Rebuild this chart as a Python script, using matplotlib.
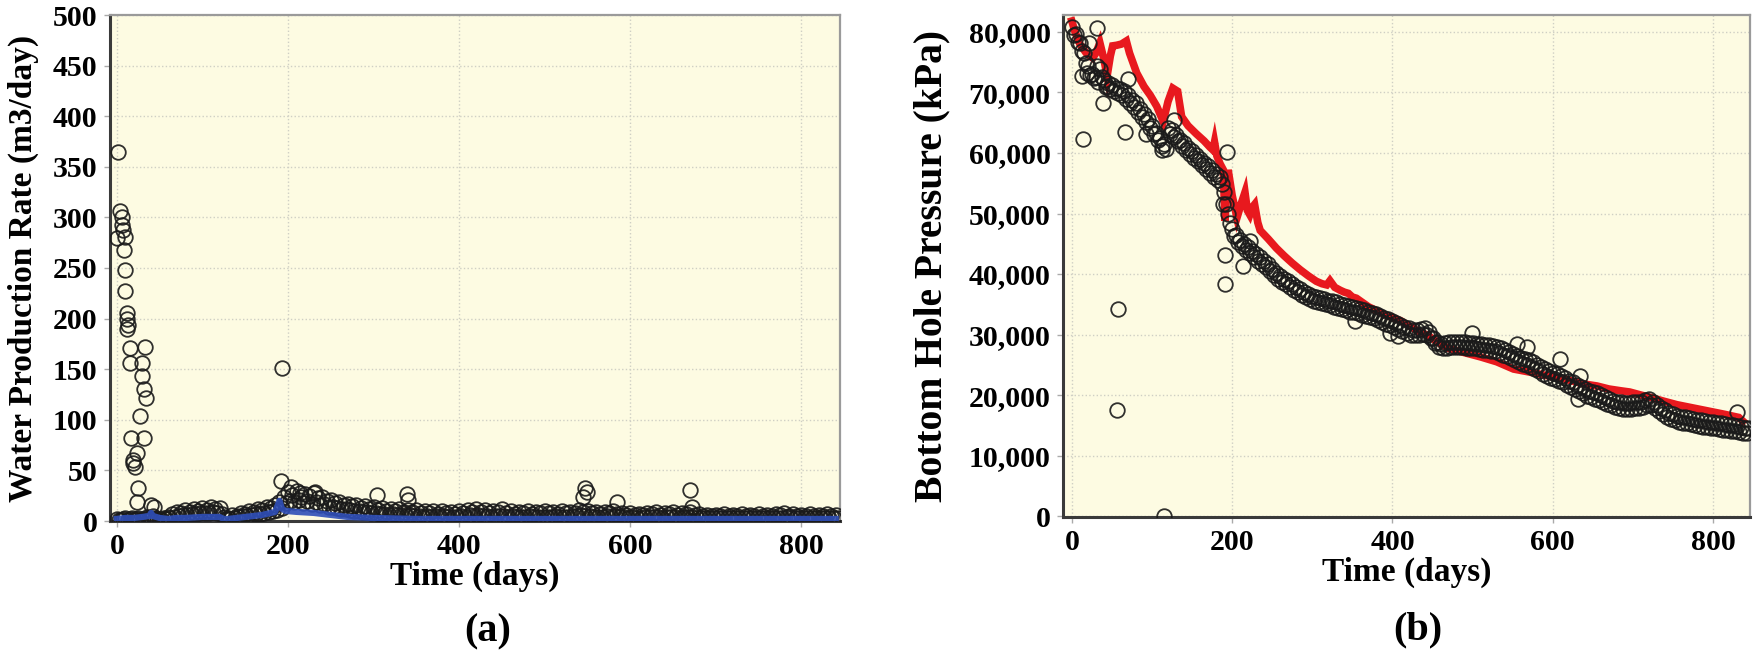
import numpy as np
import matplotlib
matplotlib.use("Agg")
import matplotlib.pyplot as plt
from matplotlib.ticker import FuncFormatter, MultipleLocator

# ---------------- Data: panel (a) water production rate ----------------
water_days = np.arange(0, 845, 5)
water_obs = [
    2, 1, 3, 2, 1, 3, 2, 4, 3, 3,
    2, 3, 4, 7, 9, 8, 11, 9, 12, 10,
    13, 11, 14, 12, 13, 4, 3, 6, 5, 8,
    7, 10, 9, 12, 11, 14, 13, 16, 19, 24,
    29, 26, 30, 24, 27, 25, 28, 23, 24, 20,
    21, 18, 19, 16, 17, 15, 16, 13, 15, 12,
    14, 11, 13, 10, 12, 10, 12, 9, 11, 9,
    11, 8, 10, 8, 10, 7, 10, 8, 9, 7,
    10, 8, 11, 9, 12, 9, 11, 8, 10, 9,
    12, 8, 10, 7, 9, 8, 10, 7, 9, 8,
    10, 8, 9, 7, 10, 8, 9, 8, 11, 9,
    10, 8, 9, 7, 9, 8, 10, 7, 8, 6,
    8, 6, 7, 6, 8, 7, 9, 6, 8, 7,
    9, 6, 8, 7, 9, 6, 7, 5, 6, 5,
    6, 5, 7, 5, 6, 5, 7, 5, 6, 5,
    7, 5, 6, 5, 7, 6, 8, 5, 7, 5,
    6, 5, 7, 5, 6, 5, 7, 5, 6,
]
water_days2 = np.arange(2.5, 845, 5)
water_obs2 = [
    1, 2, 1, 3, 2, 1, 2, 3, 5, 2,
    1, 2, 3, 4, 5, 6, 6, 7, 7, 8,
    8, 8, 9, 8, 7, 2, 2, 3, 4, 5,
    5, 6, 7, 7, 8, 9, 10, 11, 13, 18,
    20, 19, 21, 18, 20, 17, 19, 16, 17, 14,
    14, 13, 12, 12, 11, 10, 10, 9, 9, 8,
    8, 7, 7, 6, 7, 6, 6, 5, 6, 5,
    5, 4, 5, 4, 5, 4, 5, 4, 4, 4,
    5, 4, 6, 5, 6, 5, 5, 4, 5, 5,
    5, 4, 5, 4, 4, 4, 5, 4, 4, 4,
    4, 4, 5, 4, 4, 4, 5, 5, 6, 5,
    5, 4, 4, 4, 5, 4, 5, 4, 4, 3,
    4, 3, 3, 4, 4, 4, 4, 3, 4, 4,
    4, 3, 4, 4, 4, 3, 3, 3, 3, 3,
    3, 3, 3, 3, 3, 3, 3, 3, 3, 3,
    3, 3, 3, 3, 3, 3, 4, 3, 3, 3,
    3, 3, 3, 3, 3, 3, 3, 3, 3,
]
water_out_days = [1, 3.5, 5.5, 7, 0, 10, 8.5, 10, 10, 11.5, 13, 11.5, 15, 15, 33, 29, 29, 32,
                  34, 27, 32, 16, 23, 18.5, 19, 21, 25, 23, 43, 40, 193, 192, 204, 214, 232,
                  304, 339, 340, 547, 549, 545, 670, 585, 672, 6, 12]
water_out_vals = [365, 306, 300, 288, 280, 281, 268, 248, 227, 206, 194, 190, 171, 156, 172, 156, 143, 130,
                  122, 104, 82, 82, 67, 60, 57, 53, 33, 19, 14, 16, 151, 40, 34, 28, 29,
                  26, 27, 21, 33, 29, 24, 31, 19, 14, 292, 200]
water_sim_days = [0, 10, 20, 30, 38, 40, 42, 50, 60, 70, 80, 100, 120, 125, 130, 150, 170, 185,
                  190, 193, 197, 210, 230, 250, 270, 300, 350, 400, 500, 600, 700, 800, 840]
water_sim_vals = [2, 3, 3, 4, 5, 8, 5, 3, 2, 3, 3, 4, 4, 2, 2, 4, 6, 9,
                  20, 12, 10, 9, 8, 6, 4, 3, 2, 2, 2, 2, 2, 2, 2]

# ---------------- Data: panel (b) bottom hole pressure ----------------
bhp_days = np.arange(0, 845, 5)
bhp_obs = [
    80800, 79600, 78200, 76500, 74300, 73000, 72600, 73800, 72000, 71500,
    71200, 70800, 70600, 70300, 69600, 68800, 68200, 67300, 66500, 65600,
    64500, 63300, 62400, 61500, 64200, 63800, 63000, 62200, 61600, 60900,
    60300, 59700, 59000, 58400, 57800, 57200, 56600, 56000, 53500, 50000,
    47500, 46500, 45600, 45000, 44400, 43800, 43300, 42800, 42200, 41600,
    40900, 40200, 39600, 39200, 38800, 38300, 37900, 37500, 37100, 36700,
    36300, 36200, 36000, 35800, 35600, 35500, 35300, 35100, 34900, 34700,
    34600, 34400, 34200, 34000, 33800, 33600, 33400, 33100, 32800, 32500,
    32200, 31900, 31600, 31300, 31000, 30800, 30700, 30900, 31000, 30500,
    29500, 28700, 28500, 28600, 28700, 28800, 28800, 28800, 28700, 28600,
    28600, 28500, 28400, 28300, 28200, 28100, 28000, 27700, 27400, 27100,
    26800, 26500, 26200, 26000, 25800, 25400, 25000, 24600, 24300, 24000,
    23700, 23400, 23200, 22800, 22400, 22100, 21700, 21400, 21000, 20700,
    20500, 20300, 20000, 19700, 19400, 19100, 18900, 18800, 18700, 18700,
    18800, 18800, 18900, 19200, 19300, 18900, 18400, 17900, 17500, 17100,
    16800, 16600, 16400, 16300, 16200, 16000, 15900, 15800, 15700, 15600,
    15500, 15400, 15300, 15200, 15100, 15000, 14900, 14800, 14600,
]
bhp_days2 = np.arange(2.5, 845, 5)
bhp_obs2 = [
    79500, 78300, 76800, 74800, 72900, 72400, 71800, 72500, 70900, 70600,
    70300, 69900, 69500, 68900, 68300, 67600, 66800, 66000, 65100, 64200,
    63200, 62100, 61200, 60700, 63100, 62600, 61900, 61200, 60500, 59900,
    59200, 58600, 58000, 57300, 56700, 56100, 55500, 54800, 51500, 48500,
    46300, 45300, 44600, 44000, 43400, 42800, 42200, 41700, 41100, 40500,
    39800, 39200, 38700, 38300, 37800, 37400, 37000, 36600, 36200, 35900,
    35600, 35400, 35200, 35000, 34800, 34600, 34400, 34200, 34000, 33800,
    33700, 33500, 33300, 33100, 32900, 32700, 32400, 32100, 31800, 31500,
    31200, 30900, 30600, 30300, 30000, 29900, 29900, 30100, 30000, 29400,
    28600, 27900, 27700, 27800, 27900, 28000, 28000, 27900, 27800, 27700,
    27700, 27600, 27500, 27400, 27300, 27200, 27000, 26700, 26400, 26100,
    25800, 25500, 25200, 25000, 24700, 24300, 23900, 23500, 23200, 22900,
    22600, 22400, 22100, 21700, 21300, 21000, 20600, 20300, 19900, 19600,
    19400, 19200, 18900, 18600, 18300, 18000, 17800, 17700, 17700, 17700,
    17800, 17800, 18000, 18300, 18300, 17800, 17300, 16800, 16400, 16100,
    15800, 15600, 15400, 15300, 15200, 15000, 14900, 14800, 14700, 14600,
    14500, 14400, 14300, 14200, 14100, 14000, 13900, 13800, 13700,
]
bhp_out_days = [14, 32, 56, 58, 115, 39, 66, 93, 112, 128, 193, 191, 191, 214, 222, 188,
                13, 19, 22, 31, 44, 70, 353, 397, 407, 499, 555, 568, 609, 632, 634, 830, 843]
bhp_out_vals = [62300, 80600, 17500, 34300, 0, 68200, 63500, 63200, 60500, 65500, 60200, 43200,
                38300, 41300, 45500, 51500, 72700, 73200, 78200, 74300, 71000, 72200, 32200,
                30200, 29700, 30200, 28500, 28000, 26000, 19300, 23200, 17200, 14500]
bhp_sim_days = [0, 4, 10, 18, 26, 30, 35, 40, 44, 48, 51, 56, 62, 68, 72, 81, 90, 98, 106, 114,
                120, 126, 132, 137, 145, 155, 165, 172, 176, 178, 181, 185, 189, 191, 195, 200,
                206, 211, 216, 219, 222, 225, 228, 232, 235, 245, 255, 265, 275, 285, 295, 305,
                312, 318, 322, 328, 335, 340, 345, 350, 355, 370, 390, 410, 430, 445, 455, 470,
                490, 510, 530, 551, 575, 600, 613, 625, 640, 655, 670, 685, 696, 710, 725, 738,
                755, 770, 785, 800, 815, 825, 832, 837]
bhp_sim_vals = [81800, 80000, 78000, 76500, 75700, 76500, 78200, 75500, 72700, 76000, 77700, 77800,
                78000, 78500, 76500, 73200, 71000, 69500, 67700, 65200, 68500, 70700, 70200, 66000,
                64500, 63200, 62000, 61000, 60500, 61800, 59500, 58200, 57200, 48800, 57200, 53000,
                49300, 51500, 53500, 50500, 49800, 51000, 51500, 48500, 47200, 45800, 44300, 43000,
                41800, 40700, 39700, 38800, 38400, 38200, 38900, 37800, 37300, 37000, 36800, 36200,
                36000, 34600, 33300, 32300, 30700, 29800, 28800, 27700, 27000, 26300, 25500, 24300,
                23700, 23000, 22700, 22300, 21800, 21500, 21000, 20700, 20500, 20000, 19500, 19000,
                18400, 18000, 17600, 17200, 16800, 16500, 16300, 15700]

x_ticks = [0, 200, 400, 600, 800]

# ---------------- Figure ----------------
W, H = 1755, 654
fig = plt.figure(figsize=(W / 100, H / 100), dpi=100)
FONT = "Liberation Serif"
bg = "#FDFBE2"
TICK_FS = 21.5
LABEL_FS = 24

def style(ax):
    ax.set_facecolor(bg)
    ax.grid(True, color="#cfcfc4", linestyle=":", linewidth=1.0)
    ax.set_axisbelow(True)
    for s in ("left", "bottom"):
        ax.spines[s].set_color("#3a3a3a")
        ax.spines[s].set_linewidth(2.2)
    for s in ("top", "right"):
        ax.spines[s].set_color("#9a9a9a")
        ax.spines[s].set_linewidth(1.6)
    ax.tick_params(axis="both", length=4, width=1, color="#aaaaaa",
                   labelsize=TICK_FS, pad=5)
    for lab in ax.get_xticklabels() + ax.get_yticklabels():
        lab.set_fontfamily(FONT)
        lab.set_fontweight("bold")

mk = dict(linestyle="none", marker="o", markersize=10.5, markerfacecolor="none",
          markeredgecolor="#1a1a1a", markeredgewidth=1.3, alpha=0.9)

# Panel (a)
ax1 = fig.add_axes([110 / W, 1 - 521 / H, 730 / W, 506 / H])
ax1.plot(water_days, water_obs, zorder=3, **mk)
ax1.plot(water_days2, water_obs2, zorder=3, **mk)
ax1.plot(water_out_days, water_out_vals, zorder=3, **mk)
ax1.plot(water_sim_days, water_sim_vals, color="#2f4fb8", linewidth=4.5, zorder=4, alpha=0.9)
ax1.set_xlim(-8, 845)
ax1.set_ylim(0, 500)
ax1.set_xticks(x_ticks)
ax1.yaxis.set_major_locator(MultipleLocator(50))
style(ax1)
ax1.set_xlabel("Time (days)", fontfamily=FONT, fontweight="bold", fontsize=LABEL_FS, labelpad=0)
ax1.set_ylabel("Water Production Rate (m3/day)", fontfamily=FONT, fontweight="bold",
               fontsize=LABEL_FS, labelpad=10)

# Panel (b)
ax2 = fig.add_axes([1063 / W, 1 - 517 / H, 687 / W, 502 / H])
ax2.plot(bhp_sim_days, bhp_sim_vals, color="#e8191e", linewidth=5.5, zorder=2,
         solid_joinstyle="miter")
ax2.plot(bhp_days, bhp_obs, zorder=3, **mk)
ax2.plot(bhp_days2, bhp_obs2, zorder=3, **mk)
ax2.plot(bhp_out_days, bhp_out_vals, zorder=3, **mk)
ax2.set_xlim(-11, 846)
ax2.set_ylim(-150, 82800)
ax2.set_xticks(x_ticks)
ax2.yaxis.set_major_locator(MultipleLocator(10000))
ax2.yaxis.set_major_formatter(FuncFormatter(lambda v, p: f"{v:,.0f}"))
style(ax2)
ax2.set_xlabel("Time (days)", fontfamily=FONT, fontweight="bold", fontsize=LABEL_FS, labelpad=0)
ax2.set_ylabel("Bottom Hole Pressure (kPa)", fontfamily=FONT, fontweight="bold",
               fontsize=28.5, labelpad=13)

fig.text(488 / W, 1 - 632 / H, "(a)", ha="center", va="center", fontfamily=FONT,
         fontweight="bold", fontsize=29)
fig.text(1418 / W, 1 - 630 / H, "(b)", ha="center", va="center", fontfamily=FONT,
         fontweight="bold", fontsize=29)

fig.savefig("out.png", dpi=100, facecolor="white")
